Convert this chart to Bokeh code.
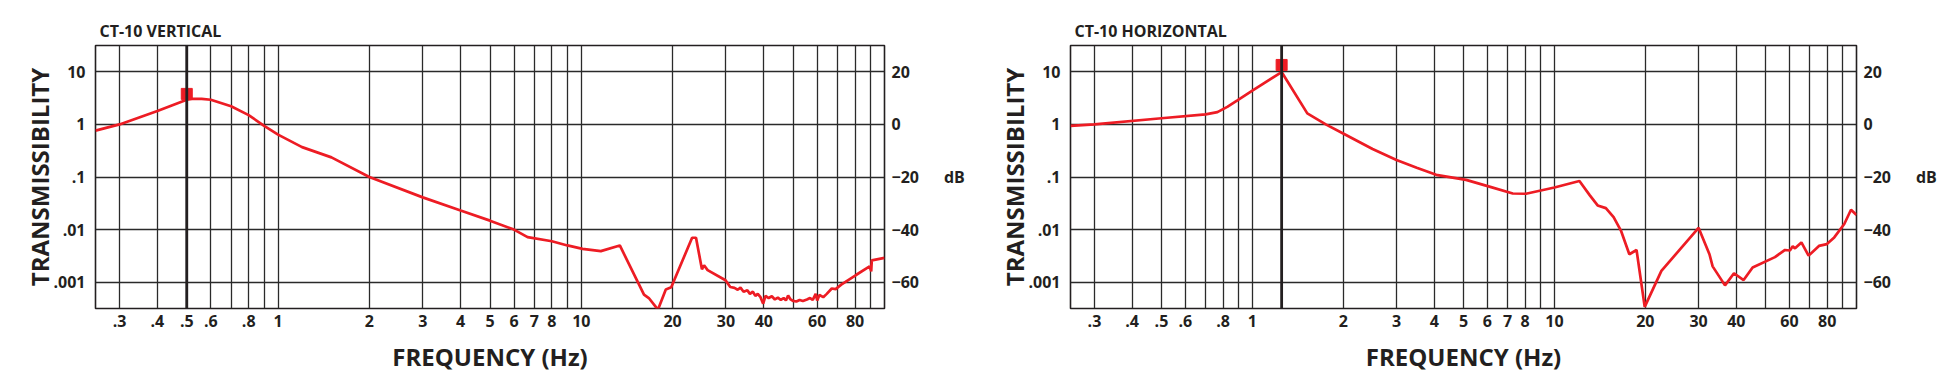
from bokeh.plotting import figure
from bokeh.models import Range1d, LinearAxis, FixedTicker, Span, LinearScale
from bokeh.layouts import row
from bokeh.embed import file_html
from bokeh.resources import INLINE

# ---------------- data ----------------
TICK_X = [0.3, 0.4, 0.5, 0.6, 0.8, 1, 2, 3, 4, 5, 6, 7, 8, 10, 20, 30, 40, 60, 80]
TICK_X_LABELS = [".3", ".4", ".5", ".6", ".8", "1", "2", "3", "4", "5", "6", "7", "8",
                 "10", "20", "30", "40", "60", "80"]
GRID_X = [0.3, 0.4, 0.5, 0.6, 0.7, 0.8, 0.9, 1, 2, 3, 4, 5, 6, 7, 8, 9,
          10, 20, 30, 40, 50, 60, 70, 80, 90]
TICK_Y = [0.001, 0.01, 0.1, 1, 10]
TICK_Y_LABELS = [".001", ".01", ".1", "1", "10"]
DB_TICKS = [-60, -40, -20, 0, 20]

# CT-10 vertical
vert_freq = [0.25, 0.3, 0.4, 0.5, 0.52, 0.56, 0.6, 0.7, 0.8, 0.9, 1.0, 1.2, 1.5, 2.0, 3.0,
             4.0, 5.0, 6.0, 6.65, 8.0, 9.0, 10.1, 11.6, 13.4, 16.1, 16.7, 17.9, 19.0,
             19.8, 23.2, 23.9, 25.0, 25.4, 26.1, 29.9, 31.0, 32.0, 32.8, 33.5, 34.3,
             35.3, 36.0, 36.8, 37.5, 38.2, 39.0, 39.8, 40.5, 41.5, 42.5, 43.5, 44.5,
             45.5, 46.5, 47.3, 48.1, 49.0, 50.0, 51.2, 52.5, 53.8, 55.5, 56.8, 58.0,
             59.3, 60.0, 61.0, 62.8, 64.5, 67.0, 69.0, 72.0, 81.0, 89.3, 90.4, 90.8, 100]
vert_trans = [0.76, 1.0, 1.79, 2.95, 3.05, 3.05, 2.94, 2.21, 1.5, 0.94, 0.64, 0.37, 0.236,
              0.1, 0.041, 0.023, 0.0148, 0.01, 0.0072, 0.006, 0.005, 0.0043, 0.0039,
              0.005, 0.00058, 0.0005, 0.0003, 0.00073, 0.0008, 0.007, 0.007, 0.00176,
              0.0021, 0.0017, 0.00109, 0.00081, 0.00078, 0.00072, 0.00079, 0.00066,
              0.0007, 0.0006, 0.00066, 0.00055, 0.0006, 0.00052, 0.00039, 0.00055,
              0.0005, 0.00054, 0.00047, 0.00051, 0.00046, 0.0005, 0.00045, 0.00056,
              0.00047, 0.00044, 0.00043, 0.00046, 0.00044, 0.00047, 0.0005, 0.00046,
              0.0006, 0.00045, 0.00057, 0.00052, 0.0006, 0.00076, 0.00074, 0.0009,
              0.0014, 0.002, 0.0016, 0.0026, 0.0029]
vert_fn = 0.5
vert_peak = 3.8

# CT-10 horizontal
horz_freq = [0.25, 0.3, 0.5, 0.7, 0.766, 0.826, 0.892, 1.0, 1.25, 1.52, 1.75, 2.02, 2.5,
             3.0, 3.5, 4.06, 5.1, 6.13, 7.28, 8.05, 10.0, 12.1, 13.1, 13.9, 14.8, 15.7,
             16.6, 17.7, 18.7, 19.9, 22.6, 30.0, 32.6, 33.4, 36.7, 39.3, 42.3, 45.3,
             53.7, 58.0, 60.2, 61.5, 62.6, 65.7, 69.4, 75.1, 79.8, 84.4, 91.1, 95.9, 100]
horz_trans = [0.94, 1.0, 1.31, 1.55, 1.71, 2.15, 2.85, 4.37, 9.9, 1.62, 1.0, 0.65, 0.34,
              0.21, 0.15, 0.11, 0.088, 0.065, 0.0486, 0.048, 0.063, 0.084, 0.0448, 0.0288,
              0.0256, 0.0172, 0.0096, 0.0034, 0.0041, 0.00034, 0.00164, 0.0108, 0.0034,
              0.002, 0.00087, 0.00148, 0.0011, 0.0019, 0.003, 0.0041, 0.004, 0.0048,
              0.0044, 0.0057, 0.0032, 0.0049, 0.0053, 0.0071, 0.0128, 0.0238, 0.019]
horz_fn = 1.25
horz_peak = 13.5

# ---------------- style ----------------
TEXT = "#231f20"
RED = "#ED1C24"
FONT = "Open Sans"


def make_chart(title, freq, trans, fn, peak, frame_w, border_left, border_right):
    p = figure(
        frame_width=frame_w,
        frame_height=263,
        min_border_left=border_left,
        min_border_right=border_right,
        min_border_top=45,
        min_border_bottom=80,
        x_axis_type="log",
        y_axis_type="log",
        x_range=Range1d(0.25, 100),
        y_range=Range1d(10 ** -3.5, 10 ** 1.5),
        output_backend="svg",
        toolbar_location=None,
        title=title,
        background_fill_color="white",
        border_fill_color="white",
    )
    p.title.text_font = FONT
    p.title.text_font_style = "bold"
    p.title.text_font_size = "16px"
    p.title.text_color = TEXT
    p.title.align = "left"
    p.title.offset = 4
    p.title.standoff = 7

    p.outline_line_color = TEXT
    p.outline_line_width = 1.6
    p.outline_line_alpha = 1

    # grids
    p.xgrid.ticker = FixedTicker(ticks=GRID_X)
    p.ygrid.ticker = FixedTicker(ticks=TICK_Y)
    for g in (p.xgrid, p.ygrid):
        g.grid_line_color = "#2a2a2a"
        g.grid_line_width = 1.3
        g.grid_line_alpha = 1

    # x axis
    xa = p.xaxis[0]
    xa.ticker = FixedTicker(ticks=TICK_X)
    xa.major_label_overrides = dict(zip(TICK_X, TICK_X_LABELS))
    xa.axis_label = "FREQUENCY (Hz)"
    # y axis
    ya = p.yaxis[0]
    ya.ticker = FixedTicker(ticks=TICK_Y)
    ya.major_label_overrides = dict(zip(TICK_Y, TICK_Y_LABELS))
    ya.axis_label = "TRANSMISSIBILITY"

    # right dB axis (linear scale on its own range)
    p.extra_y_ranges = {"db": Range1d(-70, 30)}
    p.extra_y_scales = {"db": LinearScale()}
    ra = LinearAxis(y_range_name="db", ticker=FixedTicker(ticks=DB_TICKS),
                    axis_label="dB", axis_label_orientation="horizontal")
    p.add_layout(ra, "right")

    for ax in (xa, ya, ra):
        ax.axis_line_color = None
        ax.major_tick_line_color = None
        ax.minor_tick_line_color = None
        ax.major_tick_out = 0
        ax.major_tick_in = 0
        ax.major_label_text_font = FONT
        ax.major_label_text_font_style = "bold"
        ax.major_label_text_font_size = "16px"
        ax.major_label_text_color = TEXT
        ax.axis_label_text_font = FONT
        ax.axis_label_text_font_style = "bold"
        ax.axis_label_text_color = TEXT
    xa.major_label_standoff = 6
    xa.axis_label_standoff = 10
    xa.axis_label_text_font_size = "24px"
    ya.major_label_standoff = 10
    ya.axis_label_standoff = -6
    ya.axis_label_text_font_size = "24px"
    ra.major_label_standoff = 7
    ra.axis_label_standoff = 22
    ra.axis_label_text_font_size = "16px"

    # natural-frequency line
    p.add_layout(Span(location=fn, dimension="height", line_color=TEXT, line_width=2.8))

    p.line(freq, trans, line_color=RED, line_width=2.7)
    p.scatter([fn], [peak], marker="square", size=11, fill_color=RED, line_color=RED)
    return p


p1 = make_chart("CT-10 VERTICAL", vert_freq, vert_trans, vert_fn, vert_peak, 789, 95, 106)
p2 = make_chart("CT-10 HORIZONTAL", horz_freq, horz_trans, horz_fn, horz_peak, 786, 80, 86)

layout = row(p1, p2)
open("out.html", "w").write(file_html(layout, INLINE))
